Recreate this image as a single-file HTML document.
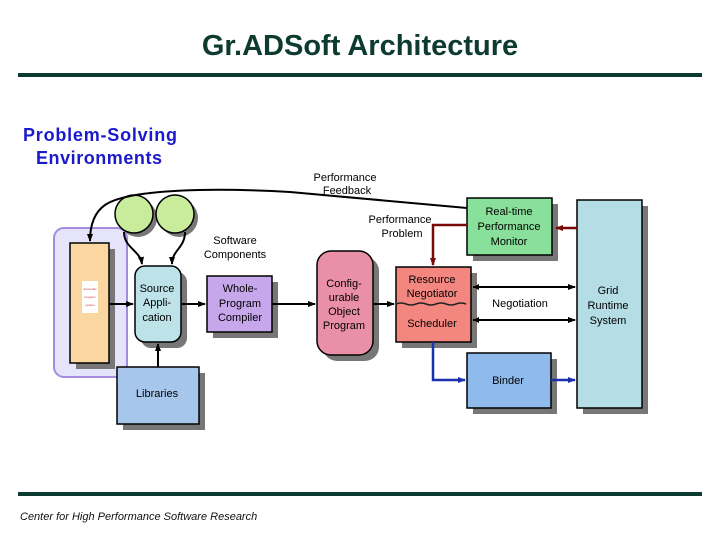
<!DOCTYPE html>
<html><head><meta charset="utf-8"><style>
body{margin:0;background:#fff;}
svg{display:block;}
text{font-family:"Liberation Sans",sans-serif;}
</style></head><body>
<svg width="720" height="540" viewBox="0 0 720 540" xmlns="http://www.w3.org/2000/svg">
<defs>
<marker id="a" markerWidth="8" markerHeight="8" refX="7" refY="4" orient="auto" markerUnits="userSpaceOnUse"><path d="M0,1 L8,4 L0,7z" fill="#000"/></marker>
<marker id="ar" markerWidth="8" markerHeight="8" refX="7" refY="4" orient="auto" markerUnits="userSpaceOnUse"><path d="M0,1 L8,4 L0,7z" fill="#7a0a0a"/></marker>
<marker id="ab" markerWidth="8" markerHeight="8" refX="7" refY="4" orient="auto" markerUnits="userSpaceOnUse"><path d="M0,1 L8,4 L0,7z" fill="#1a30b0"/></marker>
</defs>
<text x="360" y="55" text-anchor="middle" font-size="29" font-weight="bold" fill="#0d3b30">Gr.ADSoft Architecture</text>
<rect x="18" y="73" width="684" height="4" fill="#0d3b30"/>
<rect x="18" y="492" width="684" height="4" fill="#0d3b30"/>
<text x="20" y="520" font-size="11" font-style="italic" fill="#111">Center for High Performance Software Research</text>
<text x="100" y="141" text-anchor="middle" font-size="18" font-weight="bold" fill="#1a1acc" textLength="154">Problem-Solving</text>
<text x="99" y="164" text-anchor="middle" font-size="18" font-weight="bold" fill="#1a1acc" textLength="126">Environments</text>

<rect x="54" y="228" width="73" height="149" rx="10" fill="#e6e4fb" stroke="#a48ce0" stroke-width="2"/>
<g fill="#777">
<rect x="76" y="249" width="39" height="120"/>
<rect x="141" y="272" width="46" height="76" rx="10"/>
<rect x="213" y="282" width="65" height="56"/>
<rect x="123" y="373" width="82" height="57"/>
<rect x="323" y="257" width="56" height="104" rx="14"/>
<rect x="402" y="273" width="75" height="75"/>
<rect x="473" y="204" width="85" height="57"/>
<rect x="473" y="359" width="84" height="55"/>
<rect x="583" y="206" width="65" height="208"/>
<circle cx="138" cy="218" r="19"/><circle cx="179" cy="218" r="19"/>
</g>
<rect x="70" y="243" width="39" height="120" fill="#fad7a0" stroke="#000" stroke-width="1.5"/>
<rect x="82" y="281" width="16" height="32" fill="#fff"/>
<text x="90" y="290" text-anchor="middle" font-size="3" fill="#c33">Automatic</text>
<text x="90" y="298" text-anchor="middle" font-size="3" fill="#c33">program</text>
<text x="90" y="306" text-anchor="middle" font-size="3" fill="#c33">system</text>
<circle cx="134" cy="214" r="19" fill="#c8ec9c" stroke="#000" stroke-width="1.5"/>
<circle cx="175" cy="214" r="19" fill="#c8ec9c" stroke="#000" stroke-width="1.5"/>
<rect x="135" y="266" width="46" height="76" rx="10" fill="#bde3e8" stroke="#000" stroke-width="1.5"/>
<rect x="207" y="276" width="65" height="56" fill="#c6a7ec" stroke="#000" stroke-width="1.5"/>
<rect x="117" y="367" width="82" height="57" fill="#a7c6ec" stroke="#000" stroke-width="1.5"/>
<rect x="317" y="251" width="56" height="104" rx="14" fill="#e98fa6" stroke="#000" stroke-width="1.5"/>
<rect x="396" y="267" width="75" height="75" fill="#f48680" stroke="#000" stroke-width="1.5"/>
<path d="M396,304 q5,-2 10,0 t10,0 t10,0 t10,0 t10,0 t10,0 t10,0" fill="none" stroke="#222" stroke-width="1.5"/>
<rect x="467" y="198" width="85" height="57" fill="#88e09a" stroke="#000" stroke-width="1.5"/>
<rect x="467" y="353" width="84" height="55" fill="#8fbaec" stroke="#000" stroke-width="1.5"/>
<rect x="577" y="200" width="65" height="208" fill="#b5dde5" stroke="#000" stroke-width="1.5"/>

<g stroke="#000" stroke-width="2" fill="none">
<path d="M467,208 L290,192 C220,188 130,188 105,205 C92,214 90,230 90,241" marker-end="url(#a)"/>
<path d="M124,232 C124,248 140,250 142,264" marker-end="url(#a)"/>
<path d="M185,232 C185,248 172,250 172,264" marker-end="url(#a)"/>
<path d="M109,304 L133,304" marker-end="url(#a)"/>
<path d="M181,304 L205,304" marker-end="url(#a)"/>
<path d="M158,367 L158,344" marker-end="url(#a)"/>
<path d="M272,304 L315,304" marker-end="url(#a)"/>
<path d="M373,304 L394,304" marker-end="url(#a)"/>
<path d="M473,287 L575,287" marker-end="url(#a)"/>
<path d="M473,320 L575,320" marker-end="url(#a)"/>
</g>
<path d="M473,287 l6,-3 v6z M473,320 l6,-3 v6z" fill="#000"/>
<g stroke="#7a0a0a" stroke-width="2.5" fill="none">
<path d="M577,228 L556,228" marker-end="url(#ar)"/>
<path d="M467,225 L433,225 L433,265" marker-end="url(#ar)"/>
</g>
<g stroke="#1a30b0" stroke-width="2.5" fill="none">
<path d="M433,342 L433,380 L465,380" marker-end="url(#ab)"/>
<path d="M551,380 L575,380" marker-end="url(#ab)"/>
</g>

<g font-size="11" fill="#000" text-anchor="middle">
<text x="345" y="181">Performance</text><text x="347" y="194">Feedback</text>
<text x="400" y="223">Performance</text><text x="402" y="237">Problem</text>
<text x="235" y="244">Software</text><text x="235" y="258">Components</text>
<text x="157" y="292">Source</text><text x="157" y="306">Appli-</text><text x="157" y="321">cation</text>
<text x="240" y="292">Whole-</text><text x="240" y="307">Program</text><text x="240" y="321">Compiler</text>
<text x="157" y="397">Libraries</text>
<text x="344" y="287">Config-</text><text x="344" y="301">urable</text><text x="344" y="315">Object</text><text x="344" y="329">Program</text>
<text x="432" y="283">Resource</text><text x="432" y="297">Negotiator</text>
<text x="432" y="327">Scheduler</text>
<text x="509" y="215">Real-time</text><text x="509" y="230">Performance</text><text x="509" y="245">Monitor</text>
<text x="520" y="307">Negotiation</text>
<text x="508" y="384">Binder</text>
<text x="608" y="294">Grid</text><text x="608" y="309">Runtime</text><text x="608" y="324">System</text>
</g>
</svg>
</body></html>
